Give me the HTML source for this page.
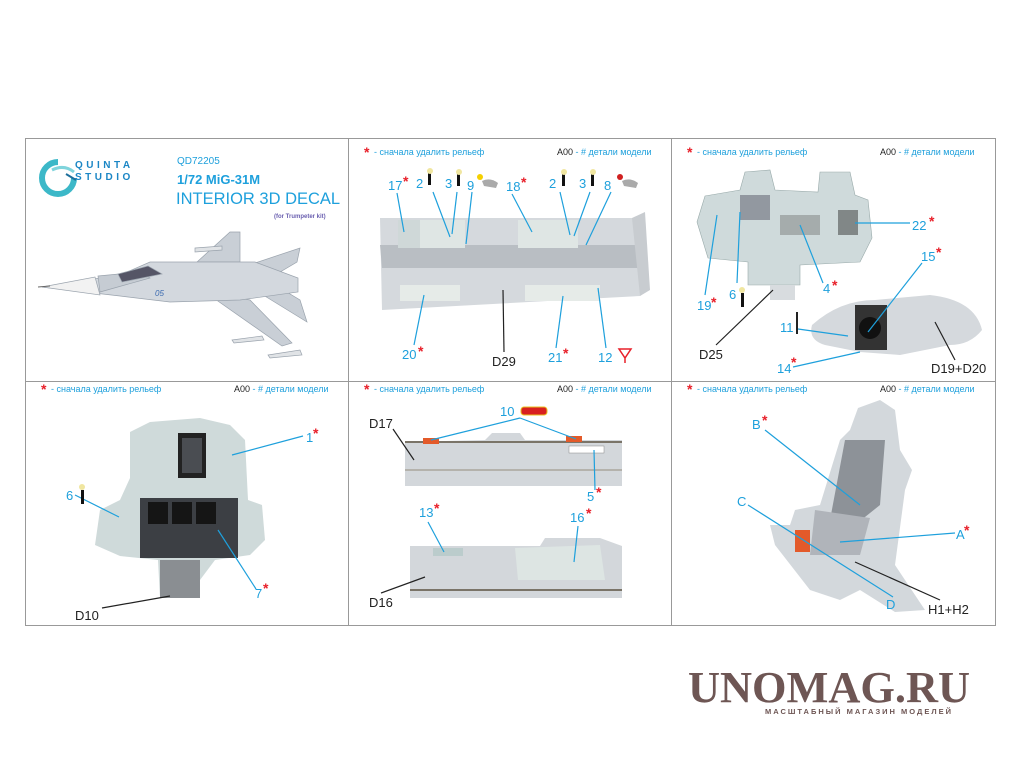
<!DOCTYPE html>
<html><head><meta charset="utf-8"><style>
html,body{margin:0;padding:0;background:#fff;}
svg{display:block;}
text{font-family:"Liberation Sans",sans-serif;}
</style></head><body>
<svg width="1020" height="765" viewBox="0 0 1020 765" xmlns="http://www.w3.org/2000/svg">
<!-- grid -->
<rect x="25.5" y="138.5" width="970" height="487" fill="none" stroke="#999" stroke-width="1"/>
<line x1="348.5" y1="138" x2="348.5" y2="626" stroke="#999"/>
<line x1="671.5" y1="138" x2="671.5" y2="626" stroke="#999"/>
<line x1="25" y1="381.5" x2="996" y2="381.5" stroke="#999"/>

<!-- Panel 1 -->
<g>
<path d="M58,162 A16,16 0 1 0 74,178" fill="none" stroke="#3cb8c8" stroke-width="6"/>
<path d="M52,170 q12,-6 22,2" fill="none" stroke="#7fd4dc" stroke-width="3"/>
<line x1="66" y1="174" x2="76" y2="180" stroke="#1e6f9c" stroke-width="2"/>
<text x="75" y="168" font-size="10" font-weight="bold" fill="#1b86c5" letter-spacing="3.5">QUINTA</text>
<text x="75" y="180" font-size="10" font-weight="bold" fill="#1b86c5" letter-spacing="3.5">STUDIO</text>
<text x="177" y="164" font-size="10" fill="#1ea0dc">QD72205</text>
<text x="177" y="184" font-size="13" font-weight="bold" fill="#1ea0dc">1/72 MiG-31M</text>
<text x="176" y="204" font-size="16.5" fill="#1ea0dc">INTERIOR 3D DECAL</text>
<text x="274" y="218" font-size="6" font-weight="bold" fill="#6a5fb0">(for Trumpeter kit)</text>
<!-- plane -->
<g fill="#c9cfd6" stroke="#9aa3ad" stroke-width="0.7">
<path d="M197,262 L230,232 L240,232 L240,262 Z"/>
<path d="M205,292 L250,300 L292,343 L282,346 Z"/>
<path d="M240,268 L300,248 L297,262 L275,275 Z"/>
<path d="M255,290 L307,322 L300,300 L280,288 Z"/>
<path d="M42,287 L120,275 L150,262 L255,262 L298,278 L298,292 L240,300 L170,302 L120,296 Z" fill="#d3d8de"/>
<path d="M42,287 L95,277 L100,295 Z" fill="#f2f2f2"/>
<path d="M98,276 L140,272 L150,278 L100,292 Z" fill="#c6ccd3"/>
<path d="M118,274 L148,266 L162,274 L122,282 Z" fill="#556"/>
<path d="M232,340 L262,336 L264,340 L234,343 Z" fill="#e0e3e6"/>
<path d="M268,355 L300,350 L302,355 L270,358 Z" fill="#e0e3e6"/>
<path d="M195,248 L222,246 L222,250 L195,252 Z" fill="#e0e3e6"/>
</g>
<text x="155" y="296" font-size="8" font-style="italic" fill="#3a6ab0">05</text>
<line x1="38" y1="287" x2="50" y2="286" stroke="#666"/>
</g>

<!-- Header texts -->
<g font-size="9">
<text x="364" y="157" fill="#e8202a" font-size="14" font-weight="bold">*</text>
<text x="374" y="155" fill="#1ea0dc">- сначала удалить рельеф</text>
<text x="557" y="155" fill="#222">A00<tspan fill="#1ea0dc"> - # детали модели</tspan></text>
<text x="687" y="157" fill="#e8202a" font-size="14" font-weight="bold">*</text>
<text x="697" y="155" fill="#1ea0dc">- сначала удалить рельеф</text>
<text x="880" y="155" fill="#222">A00<tspan fill="#1ea0dc"> - # детали модели</tspan></text>
<text x="41" y="394" fill="#e8202a" font-size="14" font-weight="bold">*</text>
<text x="51" y="392" fill="#1ea0dc">- сначала удалить рельеф</text>
<text x="234" y="392" fill="#222">A00<tspan fill="#1ea0dc"> - # детали модели</tspan></text>
<text x="364" y="394" fill="#e8202a" font-size="14" font-weight="bold">*</text>
<text x="374" y="392" fill="#1ea0dc">- сначала удалить рельеф</text>
<text x="557" y="392" fill="#222">A00<tspan fill="#1ea0dc"> - # детали модели</tspan></text>
<text x="687" y="394" fill="#e8202a" font-size="14" font-weight="bold">*</text>
<text x="697" y="392" fill="#1ea0dc">- сначала удалить рельеф</text>
<text x="880" y="392" fill="#222">A00<tspan fill="#1ea0dc"> - # детали модели</tspan></text>
</g>

<!-- Panel 2: D29 tray -->
<g>
<path d="M380,218 L645,218 L648,290 L640,296 L382,310 Z" fill="#d5d9dd"/>
<path d="M380,245 L640,245 L640,268 L382,268 Z" fill="#b9bec3"/>
<path d="M632,218 L645,212 L650,290 L640,296 Z" fill="#c8ccd0"/>
<rect x="398" y="220" width="37" height="28" fill="#cfd8d8"/>
<rect x="420" y="220" width="45" height="28" fill="#dfe6e4"/>
<rect x="518" y="220" width="60" height="28" fill="#dfe6e4"/>
<rect x="400" y="285" width="60" height="16" fill="#e6ebe8"/>
<rect x="525" y="285" width="75" height="16" fill="#e6ebe8"/>
</g>
<g font-size="13" fill="#1ea0dc">
<text x="388" y="190">17</text><text x="416" y="188">2</text><text x="445" y="188">3</text><text x="467" y="190">9</text>
<text x="506" y="191">18</text><text x="549" y="188">2</text><text x="579" y="188">3</text><text x="604" y="190">8</text>
<text x="402" y="359">20</text><text x="548" y="362">21</text><text x="598" y="362">12</text>
<text x="492" y="366" fill="#222">D29</text>
</g>
<g font-size="14" font-weight="bold" fill="#e8202a">
<text x="403" y="186">*</text><text x="521" y="187">*</text><text x="418" y="356">*</text><text x="563" y="358">*</text>
</g>
<g stroke="#1ea0dc" stroke-width="1.2" fill="none">
<line x1="397" y1="193" x2="404" y2="232"/><line x1="433" y1="192" x2="450" y2="237"/><line x1="457" y1="192" x2="452" y2="234"/>
<line x1="472" y1="192" x2="466" y2="244"/><line x1="512" y1="194" x2="532" y2="232"/><line x1="560" y1="192" x2="570" y2="235"/>
<line x1="590" y1="192" x2="574" y2="236"/><line x1="611" y1="192" x2="586" y2="245"/>
<line x1="414" y1="345" x2="424" y2="295"/><line x1="556" y1="348" x2="563" y2="296"/><line x1="606" y1="348" x2="598" y2="288"/>
</g>
<line x1="504" y1="352" x2="503" y2="290" stroke="#222" stroke-width="1.2"/>
<path d="M619,349 L631,349 L625,358 Z M625,358 L625,363" fill="none" stroke="#e8202a" stroke-width="1.5"/>
<g><rect x="428" y="173" width="3" height="12" fill="#111"/><circle cx="430" cy="171" r="3" fill="#f0e6a0"/>
<rect x="457" y="174" width="3" height="12" fill="#111"/><circle cx="459" cy="172" r="3" fill="#f0e6a0"/>
<circle cx="480" cy="177" r="3" fill="#f5d000"/><path d="M482,181 q8,-4 16,2 l-2,5 -12,-2 z" fill="#aaa"/>
<rect x="562" y="174" width="3" height="12" fill="#111"/><circle cx="564" cy="172" r="3" fill="#f0e6a0"/>
<rect x="591" y="174" width="3" height="12" fill="#111"/><circle cx="593" cy="172" r="3" fill="#f0e6a0"/>
<circle cx="620" cy="177" r="3" fill="#d02020"/><path d="M622,181 q8,-4 16,2 l-2,5 -12,-2 z" fill="#aaa"/></g>

<!-- Panel 3: dashboard -->
<g>
<path d="M697,222 L705,196 L740,190 L745,172 L770,170 L775,190 L818,192 L820,172 L850,172 L855,195 L868,200 L872,238 L860,262 L800,265 L800,285 L748,285 L748,262 L708,258 Z" fill="#cfdadb" stroke="#9aa" stroke-width="0.6"/>
<rect x="740" y="195" width="30" height="25" fill="#556" opacity="0.5"/>
<rect x="780" y="215" width="40" height="20" fill="#666" opacity="0.4"/>
<rect x="838" y="210" width="20" height="25" fill="#333" opacity="0.5"/>
<path d="M770,285 L795,285 L795,300 L770,300 Z" fill="#d8dcdf"/>
<path d="M812,325 Q840,300 875,300 L930,295 Q975,300 982,330 Q970,345 950,345 L900,355 L860,352 L825,345 Q808,340 812,325 Z" fill="#d5d9dd"/>
<rect x="855" y="305" width="32" height="45" fill="#333"/>
<circle cx="870" cy="328" r="11" fill="#111"/>
</g>
<g font-size="13" fill="#1ea0dc">
<text x="912" y="230">22</text><text x="921" y="261">15</text><text x="697" y="310">19</text><text x="729" y="299">6</text>
<text x="823" y="293">4</text><text x="780" y="332">11</text><text x="777" y="373">14</text>
<text x="699" y="359" fill="#222">D25</text><text x="931" y="373" fill="#222">D19+D20</text>
</g>
<g font-size="14" font-weight="bold" fill="#e8202a">
<text x="929" y="226">*</text><text x="936" y="257">*</text><text x="711" y="307">*</text><text x="832" y="290">*</text><text x="791" y="367">*</text>
</g>
<g stroke="#1ea0dc" stroke-width="1.2">
<line x1="910" y1="223" x2="855" y2="223"/><line x1="922" y1="263" x2="868" y2="332"/><line x1="705" y1="295" x2="717" y2="215"/>
<line x1="737" y1="283" x2="740" y2="212"/><line x1="823" y1="283" x2="800" y2="225"/><line x1="798" y1="329" x2="848" y2="336"/>
<line x1="793" y1="367" x2="860" y2="352"/>
</g>
<g stroke="#222" stroke-width="1.2"><line x1="716" y1="345" x2="773" y2="290"/><line x1="955" y1="360" x2="935" y2="322"/></g>
<rect x="796" y="312" width="2" height="22" fill="#222"/>
<rect x="741" y="293" width="3" height="14" fill="#111"/><circle cx="742" cy="290" r="3" fill="#f0e6a0"/>

<!-- Panel 4: bottom-left -->
<g>
<path d="M130,432 L150,422 L200,418 L230,425 L245,440 L248,500 L262,505 L265,540 L250,555 L215,560 L200,580 L200,598 L160,598 L158,560 L120,556 L95,545 L100,510 L120,500 L130,478 Z" fill="#cfdada"/>
<rect x="140" y="498" width="98" height="60" fill="#3c3f44"/>
<rect x="148" y="502" width="20" height="22" fill="#151515"/><rect x="172" y="502" width="20" height="22" fill="#151515"/><rect x="196" y="502" width="20" height="22" fill="#151515"/>
<rect x="178" y="433" width="28" height="45" fill="#222"/><rect x="182" y="438" width="20" height="35" fill="#4a4d52"/>
<rect x="160" y="560" width="40" height="38" fill="#8a8e92"/>
</g>
<g font-size="13" fill="#1ea0dc"><text x="306" y="442">1</text><text x="66" y="500">6</text><text x="255" y="598">7</text></g>
<g font-size="14" font-weight="bold" fill="#e8202a"><text x="313" y="438">*</text><text x="263" y="593">*</text></g>
<g stroke="#1ea0dc" stroke-width="1.2"><line x1="303" y1="436" x2="232" y2="455"/><line x1="75" y1="495" x2="119" y2="517"/><line x1="256" y1="589" x2="218" y2="530"/></g>
<rect x="81" y="490" width="3" height="14" fill="#111"/><circle cx="82" cy="487" r="3" fill="#f0e6a0"/>
<line x1="102" y1="608" x2="170" y2="596" stroke="#222" stroke-width="1.2"/>
<text x="75" y="620" font-size="13" fill="#222">D10</text>

<!-- Panel 5 -->
<g>
<path d="M405,442 L485,440 L492,433 L520,433 L525,440 L622,440 L622,486 L405,486 Z" fill="#d3d7db"/>
<line x1="405" y1="442" x2="622" y2="442" stroke="#7a7468" stroke-width="2"/>
<line x1="405" y1="470" x2="622" y2="470" stroke="#a9a59c" stroke-width="1.5"/>
<rect x="569" y="446" width="35" height="7" fill="#fff" stroke="#888" stroke-width="0.5"/>
<rect x="423" y="438" width="16" height="6" fill="#e35a2a"/><rect x="566" y="436" width="16" height="6" fill="#e35a2a"/>
<rect x="521" y="407" width="26" height="8" rx="3" fill="#d82020" stroke="#e8c020"/>
<path d="M410,546 L540,546 L545,538 L600,538 L622,546 L622,598 L410,598 Z" fill="#d3d7db"/>
<line x1="410" y1="590" x2="622" y2="590" stroke="#7a7468" stroke-width="2"/>
<rect x="433" y="548" width="30" height="8" fill="#bcc"/>
<path d="M515,548 L600,545 L605,580 L518,580 Z" fill="#dde5e3"/>
</g>
<g font-size="13" fill="#1ea0dc"><text x="500" y="416">10</text><text x="587" y="501">5</text><text x="419" y="517">13</text><text x="570" y="522">16</text></g>
<g font-size="14" font-weight="bold" fill="#e8202a"><text x="596" y="497">*</text><text x="434" y="513">*</text><text x="586" y="518">*</text></g>
<g stroke="#1ea0dc" stroke-width="1.2"><line x1="520" y1="418" x2="431" y2="440"/><line x1="520" y1="418" x2="576" y2="439"/>
<line x1="595" y1="490" x2="594" y2="450"/><line x1="428" y1="522" x2="444" y2="552"/><line x1="578" y1="526" x2="574" y2="562"/></g>
<g stroke="#222" stroke-width="1.2"><line x1="393" y1="429" x2="414" y2="460"/><line x1="381" y1="593" x2="425" y2="577"/></g>
<text x="369" y="428" font-size="13" fill="#222">D17</text><text x="369" y="607" font-size="13" fill="#222">D16</text>

<!-- Panel 6: seat -->
<g>
<path d="M858,408 L880,400 L895,410 L900,450 L912,470 L905,490 L895,565 L925,610 L895,612 L860,590 L840,600 L810,590 L775,545 L770,525 L790,525 L795,510 L820,505 L840,440 L850,430 Z" fill="#d3d8dc"/>
<path d="M845,440 L885,440 L880,505 L855,525 L830,520 Z" fill="#8d9298"/>
<path d="M815,510 L870,518 L860,555 L810,555 Z" fill="#b0b4ba"/>
<rect x="795" y="530" width="15" height="22" fill="#e35a2a"/>
</g>
<g font-size="13" fill="#1ea0dc"><text x="752" y="429">B</text><text x="737" y="506">C</text><text x="956" y="539">A</text><text x="886" y="609">D</text></g>
<g font-size="14" font-weight="bold" fill="#e8202a"><text x="762" y="425">*</text><text x="964" y="535">*</text></g>
<g stroke="#1ea0dc" stroke-width="1.2"><line x1="765" y1="430" x2="860" y2="505"/><line x1="748" y1="505" x2="893" y2="597"/><line x1="955" y1="533" x2="840" y2="542"/></g>
<line x1="855" y1="562" x2="940" y2="600" stroke="#222" stroke-width="1.2"/>
<text x="928" y="614" font-size="13" fill="#222">H1+H2</text>

<!-- watermark -->
<text x="688" y="702" style="font-family:'Liberation Serif',serif;font-weight:bold" font-size="44" fill="#6e5654" textLength="282" lengthAdjust="spacingAndGlyphs">UNOMAG.RU</text>
<text x="765" y="714" font-size="7.5" font-weight="bold" fill="#6e5654" letter-spacing="2">МАСШТАБНЫЙ МАГАЗИН МОДЕЛЕЙ</text>
</svg>
</body></html>
